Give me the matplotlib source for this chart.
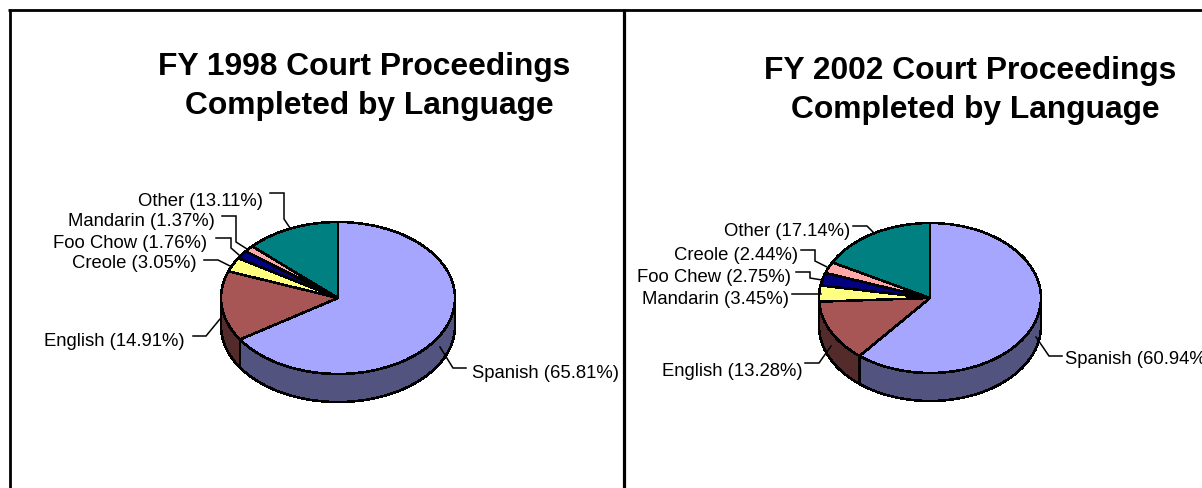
import numpy as np
import matplotlib
matplotlib.use("Agg")
import matplotlib.pyplot as plt

plt.rcParams['font.family'] = ['Liberation Sans', 'DejaVu Sans']

W, H = 1202, 489

titles_1998 = ["FY 1998 Court Proceedings", "Completed by Language"]
titles_2002 = ["FY 2002 Court Proceedings", "Completed by Language"]

labels_1998 = ["Spanish", "English", "Creole", "Foo Chow", "Mandarin", "Other"]
values_1998 = [65.81, 14.91, 3.05, 1.76, 1.37, 13.11]
labels_2002 = ["Spanish", "English", "Mandarin", "Foo Chew", "Creole", "Other"]
values_2002 = [60.94, 13.28, 3.45, 2.75, 2.44, 17.14]

colors_1998 = ["#A6A6FF", "#A85555", "#FFFF80", "#000080", "#FFA6A6", "#008080"]
colors_2002 = ["#A6A6FF", "#A85555", "#FFFF80", "#000080", "#FFA6A6", "#008080"]

# layout, all in pixels of the picture
pie_1998 = dict(cx=338, cy=299, rx=117, ry=76, depth=28)
pie_2002 = dict(cx=930, cy=299, rx=111, ry=75, depth=28)

title_pos_1998 = [(364, 67), (369, 106)]
title_pos_2002 = [(970, 71), (975, 110)]

label_pos_1998 = [(472, 373, 'left'), (185, 341, 'right'), (197, 264, 'right'),
                  (207, 243, 'right'), (215, 222, 'right'), (263, 201, 'right')]
label_pos_2002 = [(1065, 360, 'left'), (803, 371, 'right'), (789, 299, 'right'),
                  (791, 277, 'right'), (798, 255, 'right'), (850, 231, 'right')]

leaders_1998 = [
    [(440, 348), (453, 369), (466, 369)],
    [(193, 337), (206, 337), (220, 320)],
    [(204, 261), (218, 261), (230, 267)],
    [(216, 239), (231, 239), (231, 249), (239, 256)],
    [(222, 217), (236, 217), (236, 243), (247, 250)],
    [(270, 194), (284, 194), (284, 220), (290, 229)],
]
leaders_2002 = [
    [(1036, 338), (1049, 357), (1062, 357)],
    [(805, 364), (819, 364), (831, 347)],
    [(792, 295), (821, 295)],
    [(796, 273), (810, 273), (810, 279), (822, 281)],
    [(801, 251), (815, 251), (815, 262), (827, 268)],
    [(853, 227), (867, 227), (874, 234)],
]


def draw_pie(fig, box, values, colors):
    d = box['depth'] / box['ry']
    ax = fig.add_axes([(box['cx'] - box['rx']) / W,
                       (H - box['cy'] - box['ry'] - box['depth']) / H,
                       2 * box['rx'] / W,
                       (2 * box['ry'] + box['depth']) / H])
    wedges, _ = ax.pie(values, colors=colors, startangle=90, counterclock=False,
                       wedgeprops=dict(edgecolor='black', linewidth=1.1, zorder=3,
                                       antialiased=False))
    ax.set_aspect('auto')
    ax.set_xlim(-1, 1)
    ax.set_ylim(-1 - d, 1)
    for w in wedges:
        w.set_clip_on(False)

    # side wall: only the part of each slice on the front half
    shares = np.array(values) / sum(values) * 360
    start = 0
    for share, color in zip(shares, colors):
        a0, a1 = max(start, 90), min(start + share, 270)
        start += share
        if a1 <= a0:
            continue
        t = np.radians(np.linspace(a0, a1, 80))
        xs, ys = np.sin(t), np.cos(t)
        rgb = np.array(matplotlib.colors.to_rgb(color)) * 0.5
        ax.fill(np.r_[xs, xs[::-1]], np.r_[ys, ys[::-1] - d], facecolor=rgb,
                edgecolor='black', linewidth=1.1, zorder=2, clip_on=False,
                antialiased=False)


fig = plt.figure(figsize=(W / 100, H / 100), dpi=100, facecolor='white')

draw_pie(fig, pie_1998, values_1998, colors_1998)
draw_pie(fig, pie_2002, values_2002, colors_2002)

over = fig.add_axes([0, 0, 1, 1], zorder=5)
over.set_xlim(0, W)
over.set_ylim(H, 0)
over.axis('off')

# frame of the two panels
over.plot([9.5, 9.5], [H, 10], color='black', lw=2.0, solid_capstyle='butt')
over.plot([8, W], [10.5, 10.5], color='black', lw=2.0, solid_capstyle='butt')
over.plot([623.5, 623.5], [10, H], color='black', lw=2.3, solid_capstyle='butt')

for lines, pos in ((titles_1998, title_pos_1998), (titles_2002, title_pos_2002)):
    for s, (x, y) in zip(lines, pos):
        over.text(x, y, s, fontsize=22.9, fontweight='bold', ha='center', va='center')

for labels, values, pos, leaders in ((labels_1998, values_1998, label_pos_1998, leaders_1998),
                                     (labels_2002, values_2002, label_pos_2002, leaders_2002)):
    for name, v, (x, y, ha), line in zip(labels, values, pos, leaders):
        over.text(x, y, f"{name} ({v:.2f}%)", fontsize=13.3, ha=ha, va='center', clip_on=True)
        over.plot([p[0] for p in line], [p[1] for p in line], color='black', lw=1.1,
                  solid_joinstyle='miter')

fig.savefig("out.png", dpi=100)
